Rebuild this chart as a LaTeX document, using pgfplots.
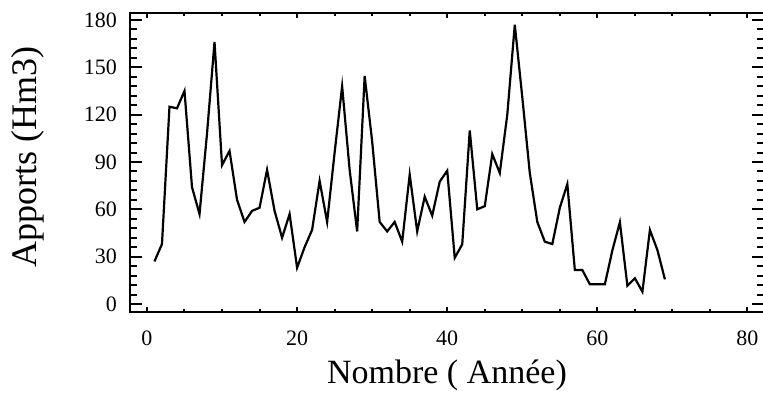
\documentclass[border=0pt]{standalone}
\usepackage{pgfplots}
\pgfplotsset{compat=1.18}
\usepackage{fontspec}
\setmainfont{Liberation Serif}
\begin{document}
\begin{tikzpicture}
\begin{axis}[
  scale only axis,
  width=634pt, height=299pt,
  xmin=-2.26, xmax=82.2,
  ymin=-5.07, ymax=184.4,
  xtick={0,20,40,60,80},
  ytick={0,30,60,90,120,150,180},
  minor x tick num=3,
  minor y tick num=4,
  tick align=inside,
  axis line style={line width=2.2pt},
  every tick/.style={black, line width=2pt},
  major tick length=12pt,
  minor tick length=7pt,
  x tick style={/pgfplots/major tick length=5pt, /pgfplots/minor tick length=3pt},
  /pgf/number format/assume math mode=true,
  ticklabel style={font=\fontsize{22}{22}\selectfont, inner sep=0pt},
  xticklabel style={anchor=center, yshift=-26pt},
  yticklabel style={anchor=east, xshift=-13pt},
  xlabel={Nombre ( Année)},
  ylabel={Apports (Hm3)},
  xlabel style={font=\fontsize{34}{34}\selectfont, at={(axis description cs:0.5,-0.211)}, anchor=center},
  ylabel style={font=\fontsize{36}{36}\selectfont, at={(axis description cs:-0.161,0.518)}, anchor=center},
]
\addplot[black, line width=2.2pt, mark=none] coordinates {
(1,27)(2,38)(3,125)(4,124)(5,135)(6,74)(7,57)(8,108)(9,166)(10,88)
(11,97)(12,66)(13,52)(14,59)(15,61)(16,85)(17,59)(18,42)(19,57)(20,23)
(21,36)(22,47)(23,78)(24,52)(25,96)(26,138)(27,85)(28,46)(29,144.5)(30,103)
(31,52)(32,46)(33,52)(34,39.5)(35,82)(36,46)(37,68)(38,56)(39,77.5)(40,84.5)
(41,29.3)(42,37.8)(43,110)(44,60)(45,62)(46,95)(47,83)(48,120)(49,177)(50,131)
(51,83)(52,52)(53,39.5)(54,38)(55,61)(56,76)(57,21.5)(58,21.5)(59,12.5)(60,12.5)
(61,12.5)(62,34)(63,51.8)(64,11.6)(65,16.3)(66,7.8)(67,46.9)(68,34.2)(69,15.6)
};
\end{axis}
\pgfresetboundingbox
\path[use as bounding box] ([xshift=-130pt,yshift=-82pt]current axis.south west) rectangle ([xshift=-1pt,yshift=13pt]current axis.north east);
\end{tikzpicture}
\end{document}
